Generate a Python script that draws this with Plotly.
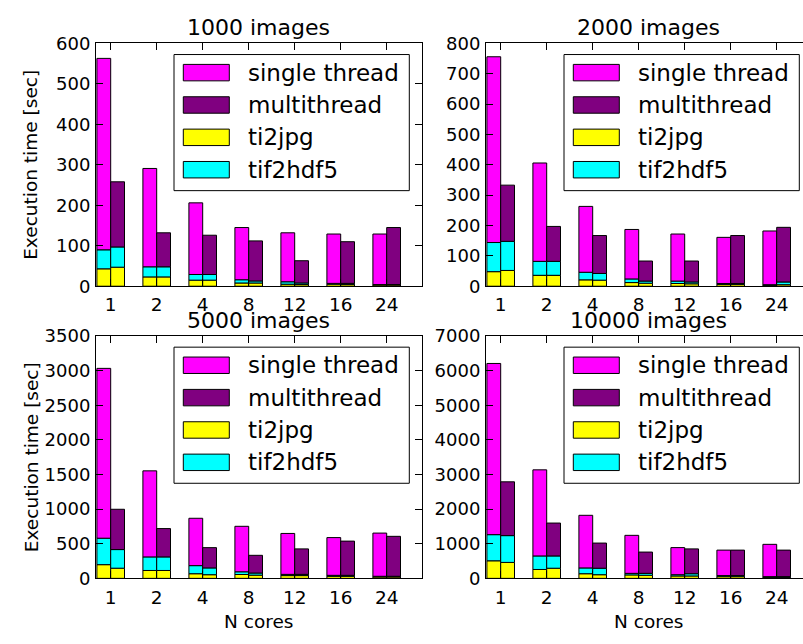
import plotly.graph_objects as go
import numpy as np

W, H = 803, 644

cores = ["1", "2", "4", "8", "12", "16", "24"]
titles = ["1000 images", "2000 images", "5000 images", "10000 images"]

# single thread: total, ti2jpg part, tif2hdf5 part
st_total_1000 = [563, 291, 206, 145, 132, 129, 129]
st_ti2jpg_1000 = [43, 23, 15, 8, 5, 5, 3]
st_tif2hdf5_1000 = [47, 25, 14, 8, 6, 2, 1]
mt_total_1000 = [258, 132, 126, 112, 63, 110, 145]
mt_ti2jpg_1000 = [47, 23, 15, 8, 4, 4, 3]
mt_tif2hdf5_1000 = [50, 25, 14, 5, 4, 3, 1]

st_total_2000 = [756, 406, 263, 187, 172, 161, 182]
st_ti2jpg_2000 = [48, 36, 21, 12, 9, 6, 3]
st_tif2hdf5_2000 = [96, 46, 25, 12, 8, 3, 2]
mt_total_2000 = [333, 197, 167, 83, 83, 167, 194]
mt_ti2jpg_2000 = [52, 36, 20, 10, 8, 6, 5]
mt_tif2hdf5_2000 = [96, 46, 22, 7, 6, 3, 9]

st_total_5000 = [3033, 1553, 868, 752, 649, 589, 654]
st_ti2jpg_5000 = [198, 114, 67, 56, 40, 30, 20]
st_tif2hdf5_5000 = [382, 196, 117, 39, 18, 14, 10]
mt_total_5000 = [998, 719, 444, 333, 426, 538, 607]
mt_ti2jpg_5000 = [147, 114, 53, 47, 40, 30, 20]
mt_tif2hdf5_5000 = [269, 196, 98, 30, 18, 14, 10]

st_total_10000 = [6208, 3135, 1822, 1243, 889, 816, 983]
st_ti2jpg_10000 = [508, 257, 134, 100, 70, 50, 30]
st_tif2hdf5_10000 = [755, 391, 168, 45, 36, 30, 20]
mt_total_10000 = [2789, 1598, 1020, 760, 852, 816, 816]
mt_ti2jpg_10000 = [461, 293, 106, 90, 70, 50, 30]
mt_tif2hdf5_10000 = [774, 355, 187, 55, 64, 30, 20]

yranges = [600, 800, 3500, 7000]
ydticks = [100, 100, 500, 1000]

datasets = [
    (st_total_1000, st_ti2jpg_1000, st_tif2hdf5_1000, mt_total_1000, mt_ti2jpg_1000, mt_tif2hdf5_1000),
    (st_total_2000, st_ti2jpg_2000, st_tif2hdf5_2000, mt_total_2000, mt_ti2jpg_2000, mt_tif2hdf5_2000),
    (st_total_5000, st_ti2jpg_5000, st_tif2hdf5_5000, mt_total_5000, mt_ti2jpg_5000, mt_tif2hdf5_5000),
    (st_total_10000, st_ti2jpg_10000, st_tif2hdf5_10000, mt_total_10000, mt_ti2jpg_10000, mt_tif2hdf5_10000),
]

C_ST = "#FF00FF"
C_MT = "#800080"
C_JPG = "#FFFF00"
C_HDF = "#00FFFF"

FONT = "DejaVu Sans"

# axes pixel boxes: (left, top, right, bottom)
boxes = [
    (96, 33.5, 421.7, 284.5),
    (486, 33.5, 803, 284.5),
    (96, 336, 421.7, 586.5),
    (486, 336, 803, 586.5),
]
px_per_unit = 46.0
tick0_offset = 14.7  # px from axes left to first category

def px(x):
    return x / W

def py(y):
    return 1 - y / H

fig = go.Figure()
BW = 0.3
xpos = np.arange(len(cores))

for i, (ds, box) in enumerate(zip(datasets, boxes)):
    st_t, st_j, st_h, mt_t, mt_j, mt_h = [np.array(a, dtype=float) for a in ds]
    ax = "" if i == 0 else str(i + 1)
    xref, yref = "x" + ax, "y" + ax
    for (tot, jpg, hdf, col, off) in [(st_t, st_j, st_h, C_ST, -BW), (mt_t, mt_j, mt_h, C_MT, 0.0)]:
        segs = [
            (np.zeros_like(jpg), jpg, C_JPG),
            (jpg, hdf, C_HDF),
            (jpg + hdf, tot - jpg - hdf, col),
        ]
        for base, hgt, c in segs:
            fig.add_trace(go.Bar(
                x=xpos, y=hgt, base=base, width=BW, offset=off,
                marker=dict(color=c, line=dict(color="black", width=1)),
                xaxis=xref, yaxis=yref, showlegend=False, hoverinfo="skip",
            ))
    L, T, R, B = box
    xr0 = -tick0_offset / px_per_unit
    xr1 = (R - L - tick0_offset) / px_per_unit
    right_col = (i % 2 == 1)
    fig.update_layout(**{
        "xaxis" + ax: dict(
            domain=[px(L), px(R)], anchor=yref, range=[xr0, xr1],
            tickmode="array", tickvals=list(xpos), ticktext=cores,
            ticks="inside", ticklen=7, tickcolor="black",
            showline=True, linecolor="black", linewidth=1, mirror="ticks",
            showgrid=False, zeroline=False,
            tickfont=dict(family=FONT, size=18.5, color="black"),
            ticklabelstandoff=2,
        ),
        "yaxis" + ax: dict(
            domain=[py(B), py(T)], anchor=xref, range=[0, yranges[i]],
            dtick=ydticks[i], tick0=0,
            ticks="inside", ticklen=7, tickcolor="black",
            showline=True, linecolor="black", linewidth=1,
            mirror=False if right_col else "ticks",
            showgrid=False, zeroline=False,
            tickfont=dict(family=FONT, size=18, color="black"),
            ticklabelstandoff=1,
        ),
    })

shapes = []
annotations = []
legend_items = [("single thread", C_ST), ("multithread", C_MT), ("ti2jpg", C_JPG), ("tif2hdf5", C_HDF)]
for i, box in enumerate(boxes):
    L, T, R, B = box
    # title centered over the (full) axes width
    cx = L + 162.9
    annotations.append(dict(text=titles[i], x=px(cx), y=py(T - 16), xref="paper", yref="paper",
                            xanchor="center", yanchor="middle", showarrow=False,
                            font=dict(family=FONT, size=22, color="black")))
    # legend box
    shapes.append(dict(type="rect", xref="paper", yref="paper",
                       x0=px(L + 78), x1=px(L + 313.3), y0=py(T + 11.5), y1=py(T + 152.2),
                       line=dict(color="black", width=1), fillcolor="white", layer="above"))
    for k, (name, col) in enumerate(legend_items):
        cy = T + 30.2 + k * 33.45
        shapes.append(dict(type="rect", xref="paper", yref="paper",
                           x0=px(L + 87.3), x1=px(L + 133.3), y0=py(cy + 8.5), y1=py(cy - 8.5),
                           line=dict(color="black", width=1), fillcolor=col, layer="above"))
        annotations.append(dict(text=name, x=px(L + 150), y=py(cy), xref="paper", yref="paper",
                                xanchor="left", yanchor="middle", showarrow=False,
                                font=dict(family=FONT, size=23, color="black")))

# axis labels
for cy in [(33.5 + 284.5) / 2, (336 + 586.5) / 2]:
    annotations.append(dict(text="Execution time [sec]", x=px(31), y=py(cy), xref="paper", yref="paper",
                            xanchor="center", yanchor="middle", showarrow=False, textangle=-90,
                            font=dict(family=FONT, size=18.5, color="black")))
for cx in [258.9, 648.9]:
    annotations.append(dict(text="N cores", x=px(cx), y=py(631.5), xref="paper", yref="paper",
                            xanchor="center", yanchor="middle", showarrow=False,
                            font=dict(family=FONT, size=18.5, color="black")))

fig.update_layout(
    width=W, height=H, margin=dict(l=0, r=0, t=0, b=0),
    paper_bgcolor="white", plot_bgcolor="white",
    barmode="overlay", showlegend=False,
    shapes=shapes, annotations=annotations,
)

fig.write_html("out.html")
